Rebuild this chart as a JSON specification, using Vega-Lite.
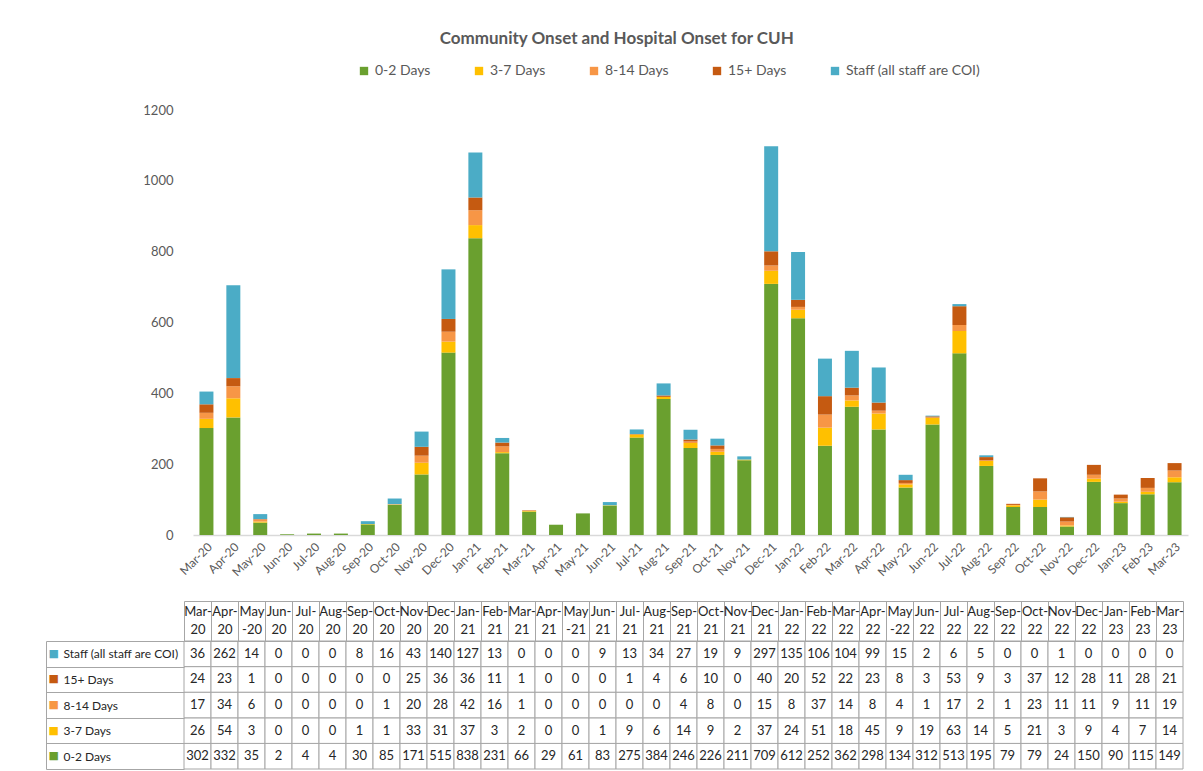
{
  "$schema": "https://vega.github.io/schema/vega-lite/v6.json",
  "background": "white",
  "padding": {"top": 30, "left": 45, "right": 10, "bottom": 0},
  "title": {"text": "Community Onset and Hospital Onset for CUH", "font": "Lato", "fontSize": 17, "fontWeight": "bold", "color": "#595959", "offset": 16, "anchor": "middle"},
  "config": {"font": "Lato", "view": {"stroke": null}},
  "datasets": {
    "seriesOrder": [
      {"series": "0-2 Days", "rank": 1},
      {"series": "3-7 Days", "rank": 2},
      {"series": "8-14 Days", "rank": 3},
      {"series": "15+ Days", "rank": 4},
      {"series": "Staff (all staff are COI)", "rank": 5}
    ],
    "cases": [
    {"month": "Mar-20", "0-2 Days": 302, "3-7 Days": 26, "8-14 Days": 17, "15+ Days": 24, "Staff (all staff are COI)": 36},
    {"month": "Apr-20", "0-2 Days": 332, "3-7 Days": 54, "8-14 Days": 34, "15+ Days": 23, "Staff (all staff are COI)": 262},
    {"month": "May-20", "0-2 Days": 35, "3-7 Days": 3, "8-14 Days": 6, "15+ Days": 1, "Staff (all staff are COI)": 14},
    {"month": "Jun-20", "0-2 Days": 2, "3-7 Days": 0, "8-14 Days": 0, "15+ Days": 0, "Staff (all staff are COI)": 0},
    {"month": "Jul-20", "0-2 Days": 4, "3-7 Days": 0, "8-14 Days": 0, "15+ Days": 0, "Staff (all staff are COI)": 0},
    {"month": "Aug-20", "0-2 Days": 4, "3-7 Days": 0, "8-14 Days": 0, "15+ Days": 0, "Staff (all staff are COI)": 0},
    {"month": "Sep-20", "0-2 Days": 30, "3-7 Days": 1, "8-14 Days": 0, "15+ Days": 0, "Staff (all staff are COI)": 8},
    {"month": "Oct-20", "0-2 Days": 85, "3-7 Days": 1, "8-14 Days": 1, "15+ Days": 0, "Staff (all staff are COI)": 16},
    {"month": "Nov-20", "0-2 Days": 171, "3-7 Days": 33, "8-14 Days": 20, "15+ Days": 25, "Staff (all staff are COI)": 43},
    {"month": "Dec-20", "0-2 Days": 515, "3-7 Days": 31, "8-14 Days": 28, "15+ Days": 36, "Staff (all staff are COI)": 140},
    {"month": "Jan-21", "0-2 Days": 838, "3-7 Days": 37, "8-14 Days": 42, "15+ Days": 36, "Staff (all staff are COI)": 127},
    {"month": "Feb-21", "0-2 Days": 231, "3-7 Days": 3, "8-14 Days": 16, "15+ Days": 11, "Staff (all staff are COI)": 13},
    {"month": "Mar-21", "0-2 Days": 66, "3-7 Days": 2, "8-14 Days": 1, "15+ Days": 1, "Staff (all staff are COI)": 0},
    {"month": "Apr-21", "0-2 Days": 29, "3-7 Days": 0, "8-14 Days": 0, "15+ Days": 0, "Staff (all staff are COI)": 0},
    {"month": "May-21", "0-2 Days": 61, "3-7 Days": 0, "8-14 Days": 0, "15+ Days": 0, "Staff (all staff are COI)": 0},
    {"month": "Jun-21", "0-2 Days": 83, "3-7 Days": 1, "8-14 Days": 0, "15+ Days": 0, "Staff (all staff are COI)": 9},
    {"month": "Jul-21", "0-2 Days": 275, "3-7 Days": 9, "8-14 Days": 0, "15+ Days": 1, "Staff (all staff are COI)": 13},
    {"month": "Aug-21", "0-2 Days": 384, "3-7 Days": 6, "8-14 Days": 0, "15+ Days": 4, "Staff (all staff are COI)": 34},
    {"month": "Sep-21", "0-2 Days": 246, "3-7 Days": 14, "8-14 Days": 4, "15+ Days": 6, "Staff (all staff are COI)": 27},
    {"month": "Oct-21", "0-2 Days": 226, "3-7 Days": 9, "8-14 Days": 8, "15+ Days": 10, "Staff (all staff are COI)": 19},
    {"month": "Nov-21", "0-2 Days": 211, "3-7 Days": 2, "8-14 Days": 0, "15+ Days": 0, "Staff (all staff are COI)": 9},
    {"month": "Dec-21", "0-2 Days": 709, "3-7 Days": 37, "8-14 Days": 15, "15+ Days": 40, "Staff (all staff are COI)": 297},
    {"month": "Jan-22", "0-2 Days": 612, "3-7 Days": 24, "8-14 Days": 8, "15+ Days": 20, "Staff (all staff are COI)": 135},
    {"month": "Feb-22", "0-2 Days": 252, "3-7 Days": 51, "8-14 Days": 37, "15+ Days": 52, "Staff (all staff are COI)": 106},
    {"month": "Mar-22", "0-2 Days": 362, "3-7 Days": 18, "8-14 Days": 14, "15+ Days": 22, "Staff (all staff are COI)": 104},
    {"month": "Apr-22", "0-2 Days": 298, "3-7 Days": 45, "8-14 Days": 8, "15+ Days": 23, "Staff (all staff are COI)": 99},
    {"month": "May-22", "0-2 Days": 134, "3-7 Days": 9, "8-14 Days": 4, "15+ Days": 8, "Staff (all staff are COI)": 15},
    {"month": "Jun-22", "0-2 Days": 312, "3-7 Days": 19, "8-14 Days": 1, "15+ Days": 3, "Staff (all staff are COI)": 2},
    {"month": "Jul-22", "0-2 Days": 513, "3-7 Days": 63, "8-14 Days": 17, "15+ Days": 53, "Staff (all staff are COI)": 6},
    {"month": "Aug-22", "0-2 Days": 195, "3-7 Days": 14, "8-14 Days": 2, "15+ Days": 9, "Staff (all staff are COI)": 5},
    {"month": "Sep-22", "0-2 Days": 79, "3-7 Days": 5, "8-14 Days": 1, "15+ Days": 3, "Staff (all staff are COI)": 0},
    {"month": "Oct-22", "0-2 Days": 79, "3-7 Days": 21, "8-14 Days": 23, "15+ Days": 37, "Staff (all staff are COI)": 0},
    {"month": "Nov-22", "0-2 Days": 24, "3-7 Days": 3, "8-14 Days": 11, "15+ Days": 12, "Staff (all staff are COI)": 1},
    {"month": "Dec-22", "0-2 Days": 150, "3-7 Days": 9, "8-14 Days": 11, "15+ Days": 28, "Staff (all staff are COI)": 0},
    {"month": "Jan-23", "0-2 Days": 90, "3-7 Days": 4, "8-14 Days": 9, "15+ Days": 11, "Staff (all staff are COI)": 0},
    {"month": "Feb-23", "0-2 Days": 115, "3-7 Days": 7, "8-14 Days": 11, "15+ Days": 28, "Staff (all staff are COI)": 0},
    {"month": "Mar-23", "0-2 Days": 149, "3-7 Days": 14, "8-14 Days": 19, "15+ Days": 21, "Staff (all staff are COI)": 0}
  ]},
  "data": {"name": "cases"},
  "transform": [
    {"fold": ["0-2 Days", "3-7 Days", "8-14 Days", "15+ Days", "Staff (all staff are COI)"], "as": ["series", "value"]},
    {"lookup": "series", "from": {"data": {"name": "seriesOrder"}, "key": "series", "fields": ["rank"]}}
  ],
  "bounds": "flush",
  "spacing": 106,
  "vconcat": [
    {
      "width": 1004,
      "height": 425,
      "mark": {"type": "bar"},
      "encoding": {
        "x": {"field": "month", "type": "ordinal", "sort": null,
          "scale": {"range": [9, 1004], "paddingInner": 0.48, "paddingOuter": 0.24},
          "axis": {"title": null, "labelAngle": -45, "labelColor": "#595959", "labelFontSize": 12, "ticks": false, "domainColor": "#D9D9D9", "domainWidth": 1.5, "labelPadding": 6, "labelOverlap": false}},
        "y": {"field": "value", "type": "quantitative", "stack": "zero",
          "scale": {"domain": [0, 1200]},
          "axis": {"title": null, "format": "d", "values": [0, 200, 400, 600, 800, 1000, 1200], "grid": false, "domain": false, "ticks": false, "labelColor": "#595959", "labelFontSize": 13, "labelPadding": 11}},
        "order": {"field": "rank", "type": "quantitative", "sort": "ascending"},
        "color": {"field": "series", "type": "nominal",
          "sort": ["0-2 Days", "3-7 Days", "8-14 Days", "15+ Days", "Staff (all staff are COI)"],
          "scale": {"domain": ["0-2 Days", "3-7 Days", "8-14 Days", "15+ Days", "Staff (all staff are COI)"], "range": ["#6AA02F", "#FFC000", "#F79646", "#C55A11", "#4BACC6"]},
          "legend": {"title": null, "orient": "none", "legendX": 173, "legendY": -46, "direction": "horizontal", "symbolType": "square", "symbolSize": 70, "symbolStrokeWidth": 0, "labelFontSize": 14, "labelColor": "#595959", "columnPadding": 41, "labelOffset": 4}}
      }
    },
    {
      "width": 999,
      "height": 128,
      "layer": [
        {
          "mark": {"type": "rect", "fill": "white", "stroke": "#A6A6A6", "strokeWidth": 1},
          "encoding": {
            "x": {"field": "month", "type": "ordinal", "sort": null, "scale": {"paddingInner": 0, "paddingOuter": 0},
              "axis": {"orient": "top", "title": null, "labelAngle": 0, "labelOverlap": false,
                "labelExpr": "indexof(datum.label, 'May') == 0 ? ['May', substring(datum.label, 3)] : [substring(datum.label, 0, 4), substring(datum.label, 4)]",
                "labelFontSize": 13, "labelColor": "#262626", "labelLineHeight": 18, "labelBaseline": "top",
                "tickBand": "extent", "tickSize": 40, "tickColor": "#A6A6A6", "labelPadding": -4, "domainColor": "#A6A6A6"}},
            "y": {"field": "series", "type": "nominal",
              "sort": ["Staff (all staff are COI)", "15+ Days", "8-14 Days", "3-7 Days", "0-2 Days"],
              "scale": {"paddingInner": 0, "paddingOuter": 0},
              "axis": {"orient": "left", "title": null, "tickBand": "extent", "tickSize": 138, "tickColor": "#A6A6A6",
                "labelAlign": "left", "labelPadding": -17, "labelFontSize": 12, "labelColor": "#262626", "domain": false, "labelLimit": 0, "labelOverlap": false}}
          }
        },
        {
          "mark": {"type": "text", "fontSize": 13, "color": "#262626"},
          "encoding": {
            "x": {"field": "month", "type": "ordinal", "sort": null,
              "axis": {"orient": "top", "offset": 40, "title": null, "labels": false, "ticks": false, "domain": true, "domainColor": "#A6A6A6"}},
            "y": {"field": "series", "type": "nominal",
              "sort": ["Staff (all staff are COI)", "15+ Days", "8-14 Days", "3-7 Days", "0-2 Days"],
              "axis": {"orient": "left", "offset": 138, "title": null, "domain": true, "domainColor": "#A6A6A6",
                "ticks": true, "tickSize": 0, "labelExpr": "'■'", "labelAlign": "left", "labelPadding": -2,
                "labelFont": "DejaVu Sans", "labelFontSize": 11, "labelOverlap": false,
                "labelColor": {"condition": [
                  {"test": "datum.value === '0-2 Days'", "value": "#6AA02F"},
                  {"test": "datum.value === '3-7 Days'", "value": "#FFC000"},
                  {"test": "datum.value === '8-14 Days'", "value": "#F79646"},
                  {"test": "datum.value === '15+ Days'", "value": "#C55A11"}
                ], "value": "#4BACC6"}}},
            "text": {"field": "value", "type": "quantitative"}
          }
        }
      ],
      "resolve": {"axis": {"x": "independent", "y": "independent"}}
    }
  ]
}
